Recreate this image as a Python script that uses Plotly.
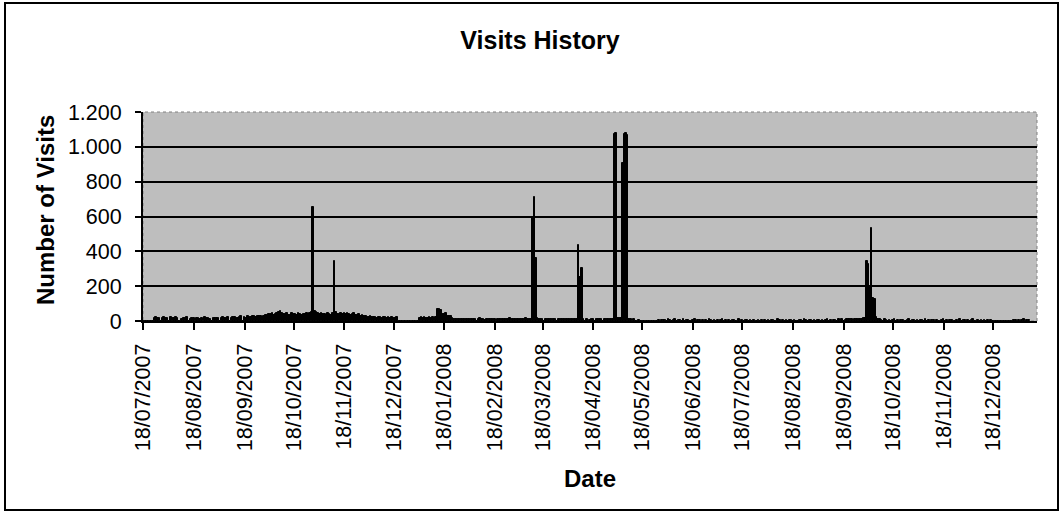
import pandas as pd
import plotly.graph_objects as go

# ---------------- data (daily visits, starting 18/07/2007) ----------------
start_date = "2007-07-18"
visits_2007_07 = [0, 0, 0, 0, 0, 0, 0, 18, 22, 15, 20, 0, 17, 21]
visits_2007_08 = [19, 16, 0, 21, 18, 15, 23, 17, 0, 0, 14, 19, 16, 22, 0, 12, 17, 20, 0, 15,
                  18, 14, 16, 0, 21, 19, 17, 13, 0, 16, 18]
visits_2007_09 = [20, 15, 0, 17, 22, 19, 16, 21, 0, 18, 25, 23, 20, 17, 24, 26, 0, 22, 19, 28,
                  25, 21, 30, 27, 24, 29, 31, 26, 22, 28]
visits_2007_10 = [32, 35, 41, 38, 44, 36, 40, 47, 52, 58, 45, 39, 42, 48, 36, 33, 44, 38, 41, 35,
                  46, 40, 37, 43, 39, 48, 42, 45, 50, 655, 56]
visits_2007_11 = [52, 44, 40, 46, 38, 42, 35, 48, 41, 37, 45, 347, 50, 43, 39, 46, 41, 44, 38, 47,
                  42, 36, 40, 45, 37, 33, 38, 30, 34, 29]
visits_2007_12 = [28, 25, 22, 26, 24, 21, 23, 20, 25, 22, 19, 24, 21, 18, 23, 20, 22, 19, 17, 21,
                  0, 0, 0, 0, 0, 0, 0, 0, 0, 0, 0]
visits_2008_01 = [0, 0, 19, 22, 18, 21, 20, 17, 23, 19, 21, 18, 22, 67, 67, 64, 43, 41, 44, 28,
                  26, 27, 15, 12, 14, 11, 13, 10, 12, 14, 11]
visits_2008_02 = [12, 10, 14, 9, 13, 11, 0, 12, 15, 10, 13, 8, 11, 14, 12, 9, 13, 10, 0, 12,
                  14, 11, 9, 13, 12, 10, 15, 11, 13]
visits_2008_03 = [12, 11, 14, 10, 13, 12, 9, 15, 11, 13, 14, 600, 711, 361, 18, 14, 11, 13, 0, 12,
                  10, 14, 11, 9, 13, 12, 0, 10, 14, 11, 12]
visits_2008_04 = [11, 13, 10, 12, 9, 14, 11, 13, 434, 255, 304, 12, 0, 10, 0, 8, 11, 9, 0, 12,
                  10, 13, 11, 0, 9, 12, 10, 14, 11, 13]
visits_2008_05 = [1075, 1082, 20, 15, 18, 909, 1075, 1082, 1070, 14, 12, 0, 9, 0, 0, 8, 0, 0, 0, 0,
                  0, 0, 0, 0, 0, 0, 0, 6, 0, 8, 5]
visits_2008_06 = [7, 0, 9, 6, 0, 8, 10, 0, 7, 5, 0, 9, 0, 6, 8, 0, 0, 7, 9, 0,
                  5, 8, 0, 6, 0, 7, 0, 9, 6, 0]
visits_2008_07 = [8, 0, 6, 0, 7, 9, 0, 5, 0, 8, 0, 6, 7, 0, 0, 9, 0, 6, 0, 8,
                  5, 0, 7, 0, 6, 0, 0, 8, 0, 7, 0]
visits_2008_08 = [6, 0, 8, 0, 5, 7, 0, 0, 9, 6, 0, 7, 0, 8, 0, 6, 5, 0, 7, 0,
                  0, 8, 6, 0, 9, 7, 0, 6, 8, 0, 7]
visits_2008_09 = [0, 7, 6, 0, 8, 0, 5, 9, 0, 7, 0, 6, 8, 0, 10, 7, 9, 0, 8, 12,
                  10, 9, 11, 8, 13, 10, 12, 9, 14, 15]
visits_2008_10 = [18, 347, 330, 195, 534, 131, 125, 22, 12, 10, 8, 0, 9, 7, 0, 8, 0, 6, 9, 0,
                  7, 0, 8, 6, 0, 0, 7, 9, 0, 6, 8]
visits_2008_11 = [0, 7, 0, 6, 8, 0, 9, 0, 7, 0, 5, 8, 0, 6, 0, 0, 7, 9, 0, 6,
                  0, 8, 7, 0, 0, 6, 0, 9, 0, 7]
visits_2008_12 = [8, 0, 6, 0, 7, 9, 0, 0, 6, 0, 8, 0, 7, 0, 5, 0, 8, 0, 0, 0,
                  0, 0, 0, 0, 0, 0, 0, 0, 0, 0, 7]
visits_2009_01 = [6, 0, 8, 0, 7, 9, 0, 6, 8]

tick_labels = ["18/07/2007", "18/08/2007", "18/09/2007", "18/10/2007", "18/11/2007",
               "18/12/2007", "18/01/2008", "18/02/2008", "18/03/2008", "18/04/2008",
               "18/05/2008", "18/06/2008", "18/07/2008", "18/08/2008", "18/09/2008",
               "18/10/2008", "18/11/2008", "18/12/2008"]
y_ticks = [0, 200, 400, 600, 800, 1000, 1200]

visits = (visits_2007_07 + visits_2007_08 + visits_2007_09 + visits_2007_10 + visits_2007_11
          + visits_2007_12 + visits_2008_01 + visits_2008_02 + visits_2008_03 + visits_2008_04
          + visits_2008_05 + visits_2008_06 + visits_2008_07 + visits_2008_08 + visits_2008_09
          + visits_2008_10 + visits_2008_11 + visits_2008_12 + visits_2009_01)
dates = pd.date_range(start_date, periods=len(visits), freq="D")
tick_vals = pd.to_datetime(tick_labels, format="%d/%m/%Y")

# ---------------- figure ----------------
FONT = "Liberation Sans, Arial, sans-serif"
W, H = 1064, 513
L, R, T, B = 143, 27, 112, 192
pw, ph = W - L - R, H - T - B


def px_x(p):
    return (p - L) / pw


def px_y(p):
    return (H - B - p) / ph


fig = go.Figure()
fig.add_trace(go.Bar(
    x=dates, y=visits,
    marker=dict(color="black", line=dict(color="black", width=1)),
    hoverinfo="x+y",
))

fig.update_layout(
    width=W, height=H,
    margin=dict(l=L, r=R, t=T, b=B, pad=0),
    paper_bgcolor="white",
    plot_bgcolor="#BEBEBE",
    separators=",.",
    bargap=0,
    showlegend=False,
    font=dict(family=FONT, color="black"),
    title=dict(text="<b>Visits History</b>", x=540 / W, xref="container",
               y=1 - 40 / H, yref="container", xanchor="center", yanchor="middle",
               font=dict(family=FONT, size=25, color="black")),
    xaxis=dict(
        type="date",
        range=["2007-07-18", "2009-01-14"],
        tickmode="array", tickvals=tick_vals, ticktext=tick_labels,
        tickangle=-90, ticks="outside", ticklen=7, tickwidth=1.5, tickcolor="black",
        tickfont=dict(family=FONT, size=21.5, color="black"),
        showline=True, linecolor="black", linewidth=2,
        showgrid=False, zeroline=False,
        ticklabelstandoff=5,
    ),
    yaxis=dict(
        range=[0, 1200],
        tickmode="array", tickvals=y_ticks, tickformat=",d",
        ticks="outside", ticklen=6, tickwidth=1.5, tickcolor="black",
        tickfont=dict(family=FONT, size=21.5, color="black"),
        showline=True, linecolor="black", linewidth=2,
        showgrid=True, gridcolor="black", gridwidth=1.5,
        zeroline=False,
        ticklabelstandoff=9,
    ),
    shapes=[
        # dotted top/right edge of the plot area
        dict(type="rect", xref="paper", yref="paper", x0=0, x1=1, y0=0, y1=1,
             line=dict(color="#808080", width=1, dash="dot"), layer="below"),
        # outer chart border
        dict(type="rect", xref="paper", yref="paper",
             x0=px_x(5), x1=px_x(1058), y0=px_y(510), y1=px_y(3),
             line=dict(color="black", width=2)),
    ],
    annotations=[
        dict(text="<b>Number of Visits</b>", xref="paper", yref="paper",
             x=px_x(45), y=px_y(210), textangle=-90, showarrow=False,
             xanchor="center", yanchor="middle",
             font=dict(family=FONT, size=24, color="black")),
        dict(text="<b>Date</b>", xref="paper", yref="paper",
             x=px_x(590), y=px_y(478), showarrow=False,
             xanchor="center", yanchor="middle",
             font=dict(family=FONT, size=24, color="black")),
    ],
)

fig.write_html("out.html", config={"displayModeBar": False},
               post_script="document.body.style.margin='0';")
